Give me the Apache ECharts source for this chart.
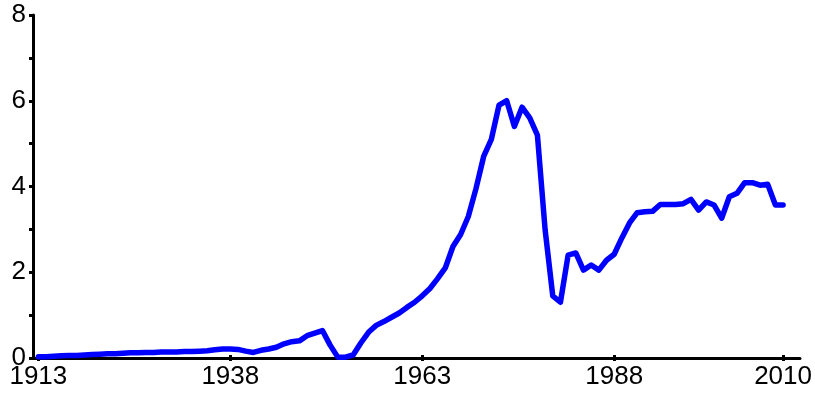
<!DOCTYPE html>
<html>
<head>
<meta charset="utf-8">
<script src="https://cdn.jsdelivr.net/npm/echarts@6/dist/echarts.min.js"></script>
<style>
  html, body { margin: 0; padding: 0; background: #fff; }
  #chart { width: 815px; height: 404px; }
</style>
</head>
<body>
<div id="chart"></div>
<script>
  // years 1913..2010
  const years = [];
  for (let y = 1913; y <= 2010; y++) years.push(y);

  const values = [
    0.03, 0.03, 0.04, 0.05, 0.06, 0.06, 0.07, 0.08, 0.09, 0.10, // 1913-1922
    0.10, 0.11, 0.12, 0.12, 0.13, 0.13, 0.14, 0.14, 0.14, 0.15, // 1923-1932
    0.15, 0.16, 0.17, 0.19, 0.21, 0.21, 0.20, 0.16, 0.13, 0.18, // 1933-1942
    0.21, 0.25, 0.33, 0.38, 0.40, 0.52, 0.58, 0.64, 0.30, 0.02, // 1943-1952
    0.02, 0.07, 0.35, 0.60, 0.76, 0.85, 0.95, 1.05, 1.18, 1.30, // 1953-1962
    1.45, 1.62, 1.85, 2.10, 2.60, 2.88, 3.30, 3.95, 4.70, 5.10, // 1963-1972
    5.90, 6.00, 5.40, 5.85, 5.60, 5.20, 3.00, 1.45, 1.30, 2.40, // 1973-1982
    2.45, 2.05, 2.17, 2.05, 2.28, 2.42, 2.80, 3.15, 3.39, 3.41, // 1983-1992
    3.42, 3.58, 3.58, 3.58, 3.60, 3.70, 3.45, 3.64, 3.57, 3.26, // 1993-2002
    3.76, 3.84, 4.09, 4.09, 4.03, 4.05, 3.57, 3.57              // 2003-2010
  ];

  const xLabels = [1913, 1938, 1963, 1988, 2010];
  const yLabels = [0, 2, 4, 6, 8];

  const chart = echarts.init(document.getElementById('chart'));
  const labelFont = {
    fontFamily: 'Liberation Sans, Arial, sans-serif',
    fontSize: 26,
    color: '#000',
    formatter: v => String(v)
  };

  chart.setOption({
    animation: false,
    grid: { left: 33, right: 13, top: 15, bottom: 46 },
    xAxis: [
      {
        type: 'value',
        min: 1912.3,
        max: 2012.2,
        splitLine: { show: false },
        axisLine: { onZero: false, lineStyle: { color: '#000', width: 3 } },
        axisTick: {
          customValues: xLabels,
          length: 3,
          lineStyle: { color: '#000', width: 3 }
        },
        axisLabel: Object.assign({ customValues: xLabels, margin: 6 }, labelFont)
      },
      {
        type: 'value',
        position: 'bottom',
        offset: 0,
        min: 1912.3,
        max: 2012.2,
        splitLine: { show: false },
        axisLine: { show: false },
        axisTick: {
          inside: true,
          customValues: xLabels,
          length: 3,
          lineStyle: { color: '#000', width: 3 }
        },
        axisLabel: { show: false }
      }
    ],
    yAxis: {
      type: 'value',
      min: 0,
      max: 8,
      interval: 1,
      splitLine: { show: false },
      axisLine: { show: true, lineStyle: { color: '#000', width: 3 } },
      axisTick: { show: true, length: 4, lineStyle: { color: '#000', width: 3 } },
      axisLabel: Object.assign({ customValues: yLabels, margin: 7 }, labelFont)
    },
    series: [
      {
        type: 'line',
        xAxisIndex: 0,
        data: years.map((y, i) => [y, values[i]]),
        symbol: 'none',
        lineStyle: { color: '#0000ff', width: 5.5, join: 'round', cap: 'round' },
        z: 5
      }
    ]
  });
</script>
</body>
</html>
